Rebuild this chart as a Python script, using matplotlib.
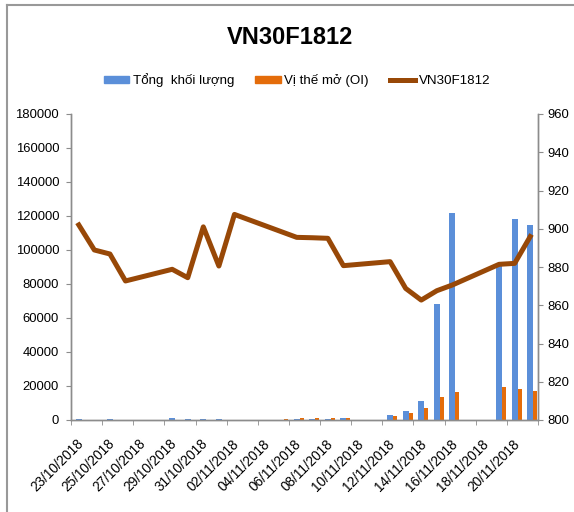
import matplotlib
matplotlib.use("Agg")
import matplotlib.pyplot as plt
from matplotlib.lines import Line2D

plt.rcParams['font.family'] = ['Liberation Sans', 'DejaVu Sans']

# ngay giao dich (so ngay ke tu 23/10/2018)
ngay = [0, 1, 2, 3, 6, 7, 8, 9, 10, 13, 14, 15, 16, 17,
        20, 21, 22, 23, 24, 27, 28, 29]

khoi_luong = [300, 200, 300, 200, 1200, 300, 300, 300, 200, 200, 300, 300, 300, 900,
              2900, 5300, 11000, 68000, 122000, 91000, 118000, 114500]

vi_the_mo = [200, 200, 200, 200, 200, 200, 200, 200, 200, 300, 1000, 1000, 900, 900,
             2300, 3900, 6900, 13700, 16300, 19600, 18000, 17200]

gia = [902.0, 888.9, 886.8, 872.7, 878.8, 874.4, 901.0, 880.5, 907.5, 898.5, 895.5, 895.3, 895.0, 880.7,
       882.8, 868.8, 862.7, 867.6, 870.6, 881.4, 881.9, 895.9]

nhan_ngay = ["23/10/2018", "25/10/2018", "27/10/2018", "29/10/2018", "31/10/2018",
             "02/11/2018", "04/11/2018", "06/11/2018", "08/11/2018", "10/11/2018",
             "12/11/2018", "14/11/2018", "16/11/2018", "18/11/2018", "20/11/2018"]

xanh = "#5B8FD9"
cam = "#E46C0A"
nau = "#984807"
xam = "#8C8C8C"

fig = plt.figure(figsize=(5.74, 5.12), dpi=100)
ax = fig.add_axes([71 / 574, 1 - 420 / 512, 467 / 574, 306 / 512])
ax2 = ax.twinx()

ax.bar([d + 0.0 for d in ngay], khoi_luong, width=0.38, color=xanh)
ax.bar([d + 0.32 for d in ngay], vi_the_mo, width=0.27, color=cam)
ax2.plot(ngay, gia, color=nau, linewidth=3.6, solid_joinstyle="round")

ax.set_xlim(-0.5, 29.5)
ax.set_ylim(0, 180000)
ax2.set_ylim(800, 960)
ax.set_yticks(range(0, 180001, 20000))
ax2.set_yticks(range(800, 961, 20))

# nhan ngay o giua o, vach chia o ranh gioi
ax.set_xticks([i * 2 - 0.15 for i in range(len(nhan_ngay))])
ax.set_xticklabels(nhan_ngay, rotation=45, ha="right", rotation_mode="anchor", fontsize=9.8)
ax.set_xticks([i * 2 - 0.5 for i in range(16)], minor=True)
ax.tick_params(axis="x", which="major", length=0, pad=12)
ax.tick_params(axis="x", which="minor", length=3.6, color=xam)
ax.tick_params(axis="y", length=3.6, color=xam, labelsize=9.4, pad=5)
ax2.tick_params(axis="y", length=3.6, color=xam, labelsize=9.4, pad=3)

for a in (ax, ax2):
    a.spines["top"].set_visible(False)
    for s in ("left", "right", "bottom"):
        a.spines[s].set_color(xam)
        a.spines[s].set_linewidth(1)

fig.text(0.505, 1 - 37 / 512, "VN30F1812", ha="center", va="center",
         fontsize=17, fontweight="bold")

handles = [plt.Rectangle((0, 0), 1, 1, color=xanh),
           plt.Rectangle((0, 0), 1, 1, color=cam),
           Line2D([], [], color=nau, linewidth=3.6)]
fig.legend(handles, ["Tổng  khối lượng", "Vị thế mở (OI)", "VN30F1812"],
           loc="center", bbox_to_anchor=(297 / 574, 1 - 80 / 512), ncol=3, frameon=False,
           fontsize=9.6, handlelength=1.9, handleheight=0.45, handletextpad=0.25,
           columnspacing=1.6)

# khung vien xam
fig.add_artist(Line2D([6.5 / 574, 1], [1 - 5 / 512, 1 - 5 / 512], color="#999999", linewidth=1.5))
fig.add_artist(Line2D([6.5 / 574, 6.5 / 574], [0, 1 - 5 / 512], color="#999999", linewidth=1.5))

fig.savefig("out.png", dpi=100)
